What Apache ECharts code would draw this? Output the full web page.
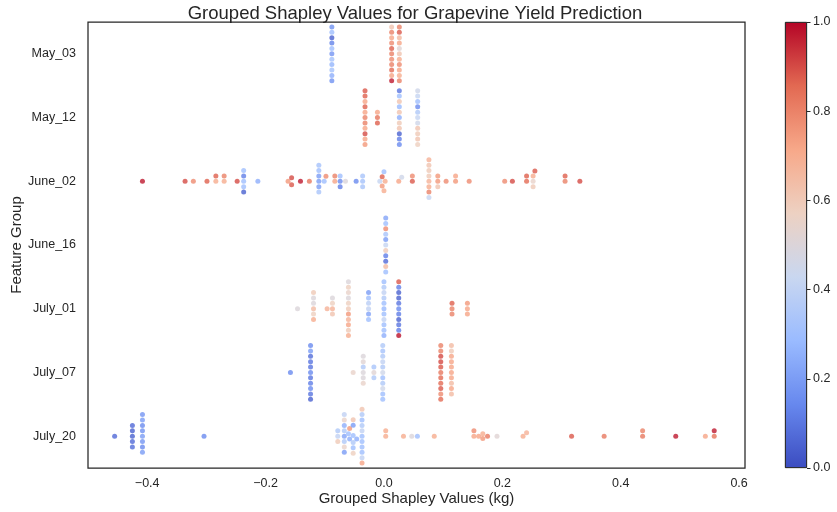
<!DOCTYPE html>
<html>
<head>
<meta charset="utf-8">
<script src="https://cdn.jsdelivr.net/npm/echarts@6/dist/echarts.min.js"></script>
<style>
  html, body { margin: 0; padding: 0; background: #fff; }
  #chart { width: 837px; height: 512px; }
</style>
</head>
<body>
<div id="chart"></div>
<script>
// feature groups, top to bottom
var groups = ['May_03', 'May_12', 'June_02', 'June_16', 'July_01', 'July_07', 'July_20'];
var xTicks = [-0.4, -0.2, 0.0, 0.2, 0.4, 0.6];
var cbTicks = [0, 0.2, 0.4, 0.6, 0.8, 1.0];

// each entry: [shapley value, [feature values of samples sharing it, listed top to bottom]]
var may03 = [
    [-0.088, [0.17, 0.3, 0.05, 0.13, 0.3, 0.18, 0.32, 0.27, 0.32, 0.25, 0.17]],
    [0.013, [0.62, 0.8, 0.72, 0.78, 0.87, 0.8, 0.78, 0.8, 0.85, 0.72, 0.97]],
    [0.026, [0.8, 0.88, 0.66, 0.72, 0.52, 0.62, 0.7, 0.78, 0.72, 0.7, 0.8]]
];
var may12 = [
    [-0.032, [0.88, 0.87, 0.72, 0.87, 0.72, 0.8, 0.8, 0.72, 0.9, 0.72, 0.75]],
    [-0.011, [0.72, 0.83, 0.87]],
    [0.026, [0.1, 0.3, 0.62, 0.28, 0.62, 0.25, 0.6, 0.62, 0.05, 0.12, 0.15]],
    [0.057, [0.45, 0.42, 0.3, 0.15, 0.35, 0.42, 0.45, 0.62, 0.6, 0.62, 0.58]]
];
var june02 = [
    [-0.408, [0.97]], [-0.336, [0.9]], [-0.322, [0.78]], [-0.299, [0.87]],
    [-0.284, [0.87, 0.7]], [-0.270, [0.8, 0.7]], [-0.248, [0.9]],
    [-0.237, [0.3, 0.12, 0.3, 0.3, 0.05]], [-0.213, [0.25]],
    [-0.162, [0.75]], [-0.156, [0.9, 0.88]], [-0.141, [0.97]], [-0.126, [0.82]],
    [-0.110, [0.32, 0.3, 0.2, 0.2, 0.2, 0.33]], [-0.101, [0.3]], [-0.098, [0.78]],
    [-0.083, [0.8, 0.72]], [-0.074, [0.3, 0.15, 0.12]], [-0.065, [0.5]],
    [-0.047, [0.15]], [-0.036, [0.33, 0.32, 0.33]],
    [-0.007, [0.42]], [-0.003, [0.87, 0.75]], [0.0, [0.3, 0.7]], [0.002, [0.7]],
    [0.025, [0.72]], [0.030, [0.45]], [0.048, [0.78, 0.88]],
    [0.076, [0.68, 0.62, 0.6, 0.6, 0.68, 0.7, 0.8, 0.42]],
    [0.091, [0.75, 0.75, 0.62]], [0.105, [0.78]], [0.121, [0.72, 0.75]], [0.144, [0.78]],
    [0.204, [0.78]], [0.217, [0.9]], [0.241, [0.87, 0.85]], [0.252, [0.7, 0.55, 0.6]],
    [0.255, [0.88]], [0.306, [0.87, 0.8]], [0.331, [0.9]]
];
var june16 = [
    [0.003, [0.22, 0.3, 0.78, 0.33, 0.2, 0.42, 0.6, 0.12, 0.07, 0.65, 0.3]]
];
var july01 = [
    [-0.146, [0.5]],
    [-0.119, [0.6, 0.5, 0.5, 0.65, 0.58, 0.7]],
    [-0.096, [0.68]],
    [-0.087, [0.5, 0.58, 0.68, 0.62]],
    [-0.060, [0.5, 0.58, 0.55, 0.5, 0.58, 0.6, 0.75, 0.68, 0.72, 0.6, 0.7]],
    [-0.026, [0.2, 0.3, 0.38, 0.4, 0.22, 0.3]],
    [0.0, [0.3, 0.35, 0.4, 0.35, 0.3, 0.28, 0.3, 0.4, 0.3, 0.3, 0.25]],
    [0.025, [0.88, 0.12, 0.05, 0.05, 0.1, 0.15, 0.12, 0.05, 0.1, 0.12, 0.98]],
    [0.115, [0.87, 0.8, 0.8]],
    [0.141, [0.75, 0.72, 0.72]]
];
var july07 = [
    [-0.158, [0.15]],
    [-0.124, [0.15, 0.2, 0.08, 0.1, 0.1, 0.15, 0.1, 0.12, 0.15, 0.1, 0.05]],
    [-0.052, [0.55]],
    [-0.035, [0.5, 0.52, 0.35, 0.5, 0.5, 0.55]],
    [-0.017, [0.33, 0.52, 0.35]],
    [-0.002, [0.35, 0.32, 0.35, 0.4, 0.35, 0.45, 0.3, 0.35, 0.45, 0.3, 0.3]],
    [0.096, [0.8, 0.8, 0.9, 0.9, 0.88, 0.82, 0.85, 0.85, 0.88, 0.78, 0.85]],
    [0.114, [0.65, 0.6, 0.72, 0.72, 0.72, 0.72, 0.72, 0.65, 0.72, 0.65]]
];
var july20 = [
    [-0.455, [0.07]],
    [-0.425, [0.07, 0.05, 0.05, 0.07, 0.08]],
    [-0.408, [0.18, 0.2, 0.15, 0.17, 0.2, 0.18, 0.15, 0.2]],
    [-0.304, [0.15]],
    [-0.078, [0.35, 0.4, 0.6]],
    [-0.067, [0.4, 0.55, 0.25, 0.35, 0.22, 0.35, 0.55, 0.2]],
    [-0.060, [0.3]],
    [-0.058, [0.75, 0.25]],
    [-0.052, [0.62, 0.2, 0.3, 0.35, 0.3, 0.58]],
    [-0.046, [0.25]],
    [-0.037, [0.62, 0.35, 0.3, 0.35, 0.4, 0.3, 0.3, 0.3, 0.3, 0.4, 0.72]],
    [0.003, [0.7, 0.7]], [0.033, [0.7]], [0.047, [0.5]], [0.0565, [0.3]], [0.085, [0.7]],
    [0.152, [0.78, 0.72]], [0.160, [0.72]], [0.167, [0.7, 0.75]], [0.175, [0.82]],
    [0.191, [0.52]], [0.235, [0.7]], [0.241, [0.68]], [0.317, [0.88]], [0.372, [0.82]],
    [0.437, [0.8, 0.82]], [0.493, [0.97]], [0.543, [0.72]], [0.558, [0.97, 0.83]]
];
var rows = [may03, may12, june02, june16, july01, july07, july20];

var coolwarm = ['#3b4cc0', '#6788ee', '#9abbff', '#c9d7f0', '#edd1c2', '#f7a889', '#e26952', '#b40426'];
var textColor = '#262626';
var font = 'Liberation Sans';

var X_MIN = -0.5, X_MAX = 0.61, Y_MIN = -0.5, Y_MAX = 6.5;
var grid = {left: 88, right: 92, top: 22, bottom: 44};
var D = 4.6;      // collision diameter in px
var GAP = 1.17;   // spacing factor between stacked dots

var chart = echarts.init(document.getElementById('chart'));
var kx = (chart.getWidth() - grid.left - grid.right) / (X_MAX - X_MIN);
var ky = (chart.getHeight() - grid.top - grid.bottom) / (Y_MAX - Y_MIN);

// greedy swarm layout (like a beeswarm), offsets in px, up is positive
function swarm(columns, row) {
    var pts = [];
    columns.forEach(function (col, ci) {
        col[1].forEach(function () {
            pts.push({x: col[0], col: ci, u: col[0] * kx, v: 0});
        });
    });
    var order = pts.map(function (p, i) { return i; }).sort(function (a, b) {
        return (pts[a].x - pts[b].x) || (a - b);
    });
    var placed = [];
    order.forEach(function (i) {
        var p = pts[i];
        var nb = placed.filter(function (q) { return Math.abs(q.u - p.u) < D; });
        var cands = [0];
        nb.forEach(function (q) {
            var du = p.u - q.u;
            var dv = Math.sqrt(Math.max(D * D - du * du, 0)) * GAP;
            cands.push(q.v + dv, q.v - dv);
        });
        cands.sort(function (a, b) {
            var d = Math.abs(a) - Math.abs(b);
            return Math.abs(d) > 1e-6 ? d : b - a;
        });
        for (var k = 0; k < cands.length; k++) {
            var c = cands[k];
            var ok = nb.every(function (q) {
                var du = q.u - p.u, dv = q.v - c;
                return du * du + dv * dv >= D * D - 1e-6;
            });
            if (ok) { p.v = c; break; }
        }
        placed.push(p);
    });
    var out = [];
    columns.forEach(function (col, ci) {
        var mine = pts.filter(function (p) { return p.col === ci; })
            .sort(function (a, b) { return b.v - a.v; });
        mine.forEach(function (p, k) {
            out.push([col[0], row - p.v / ky, col[1][k]]);
        });
    });
    return out;
}

var points = [];
rows.forEach(function (cols, r) { points = points.concat(swarm(cols, r)); });

function fmt(v) {
    var s = Math.abs(v).toFixed(1);
    return v < -1e-9 ? '\u2212' + s : s;
}

var cbStops = coolwarm.map(function (c, i) { return {offset: i / (coolwarm.length - 1), color: c}; });

var option = {
    backgroundColor: '#fff',
    textStyle: {fontFamily: font, color: textColor},
    title: {
        text: 'Grouped Shapley Values for Grapevine Yield Prediction',
        left: 412,
        textAlign: 'center',
        top: 1,
        padding: 3,
        textStyle: {fontFamily: font, fontSize: 18.5, fontWeight: 'normal', color: textColor}
    },
    grid: [
        {left: grid.left, right: grid.right, top: grid.top, bottom: grid.bottom,
         containLabel: false, outerBoundsMode: 'none',
         show: true, borderColor: textColor, borderWidth: 1.25, backgroundColor: '#fff'},
        {left: 785, width: 22, top: grid.top, bottom: grid.bottom,
         containLabel: false, outerBoundsMode: 'none'}
    ],
    visualMap: {
        type: 'continuous',
        show: false,
        seriesIndex: 0,
        dimension: 2,
        min: 0,
        max: 1,
        inRange: {color: coolwarm}
    },
    xAxis: [
        {
            type: 'value',
            gridIndex: 0,
            min: X_MIN,
            max: X_MAX,
            name: 'Grouped Shapley Values (kg)',
            nameLocation: 'middle',
            nameGap: 23,
            nameMoveOverlap: false,
            nameTextStyle: {fontFamily: font, fontSize: 15, color: textColor},
            axisLine: {show: false},
            axisTick: {show: false},
            splitLine: {show: false},
            axisLabel: {
                customValues: xTicks,
                formatter: fmt,
                margin: 9,
                fontFamily: font,
                fontSize: 12.5,
                color: textColor
            }
        },
        {type: 'category', gridIndex: 1, data: ['cb'], show: false}
    ],
    yAxis: [
        {
            type: 'value',
            gridIndex: 0,
            inverse: true,
            min: Y_MIN,
            max: Y_MAX,
            name: 'Feature Group',
            nameLocation: 'middle',
            nameGap: 64,
            nameMoveOverlap: false,
            nameTextStyle: {fontFamily: font, fontSize: 15, color: textColor},
            axisLine: {show: false},
            axisTick: {show: false},
            splitLine: {show: false},
            axisLabel: {
                customValues: [0, 1, 2, 3, 4, 5, 6],
                formatter: function (v) { return groups[Math.round(v)]; },
                margin: 12,
                fontFamily: font,
                fontSize: 12.5,
                color: textColor
            }
        },
        {
            type: 'value',
            gridIndex: 1,
            position: 'right',
            min: 0,
            max: 1,
            axisLine: {show: false},
            axisTick: {show: true, length: 3.5, lineStyle: {color: textColor, width: 1}},
            splitLine: {show: false},
            axisLabel: {
                customValues: cbTicks,
                formatter: function (v) { return v.toFixed(1); },
                margin: 6,
                fontFamily: font,
                fontSize: 12.5,
                color: textColor
            }
        }
    ],
    series: [
        {
            type: 'scatter',
            xAxisIndex: 0,
            yAxisIndex: 0,
            symbol: 'circle',
            symbolSize: 5,
            data: points
        },
        {
            type: 'bar',
            xAxisIndex: 1,
            yAxisIndex: 1,
            barWidth: '100%',
            silent: true,
            data: [1],
            itemStyle: {
                color: new echarts.graphic.LinearGradient(0, 1, 0, 0, cbStops),
                borderColor: textColor,
                borderWidth: 0.8
            }
        }
    ]
};
chart.setOption(option);
</script>
</body>
</html>
